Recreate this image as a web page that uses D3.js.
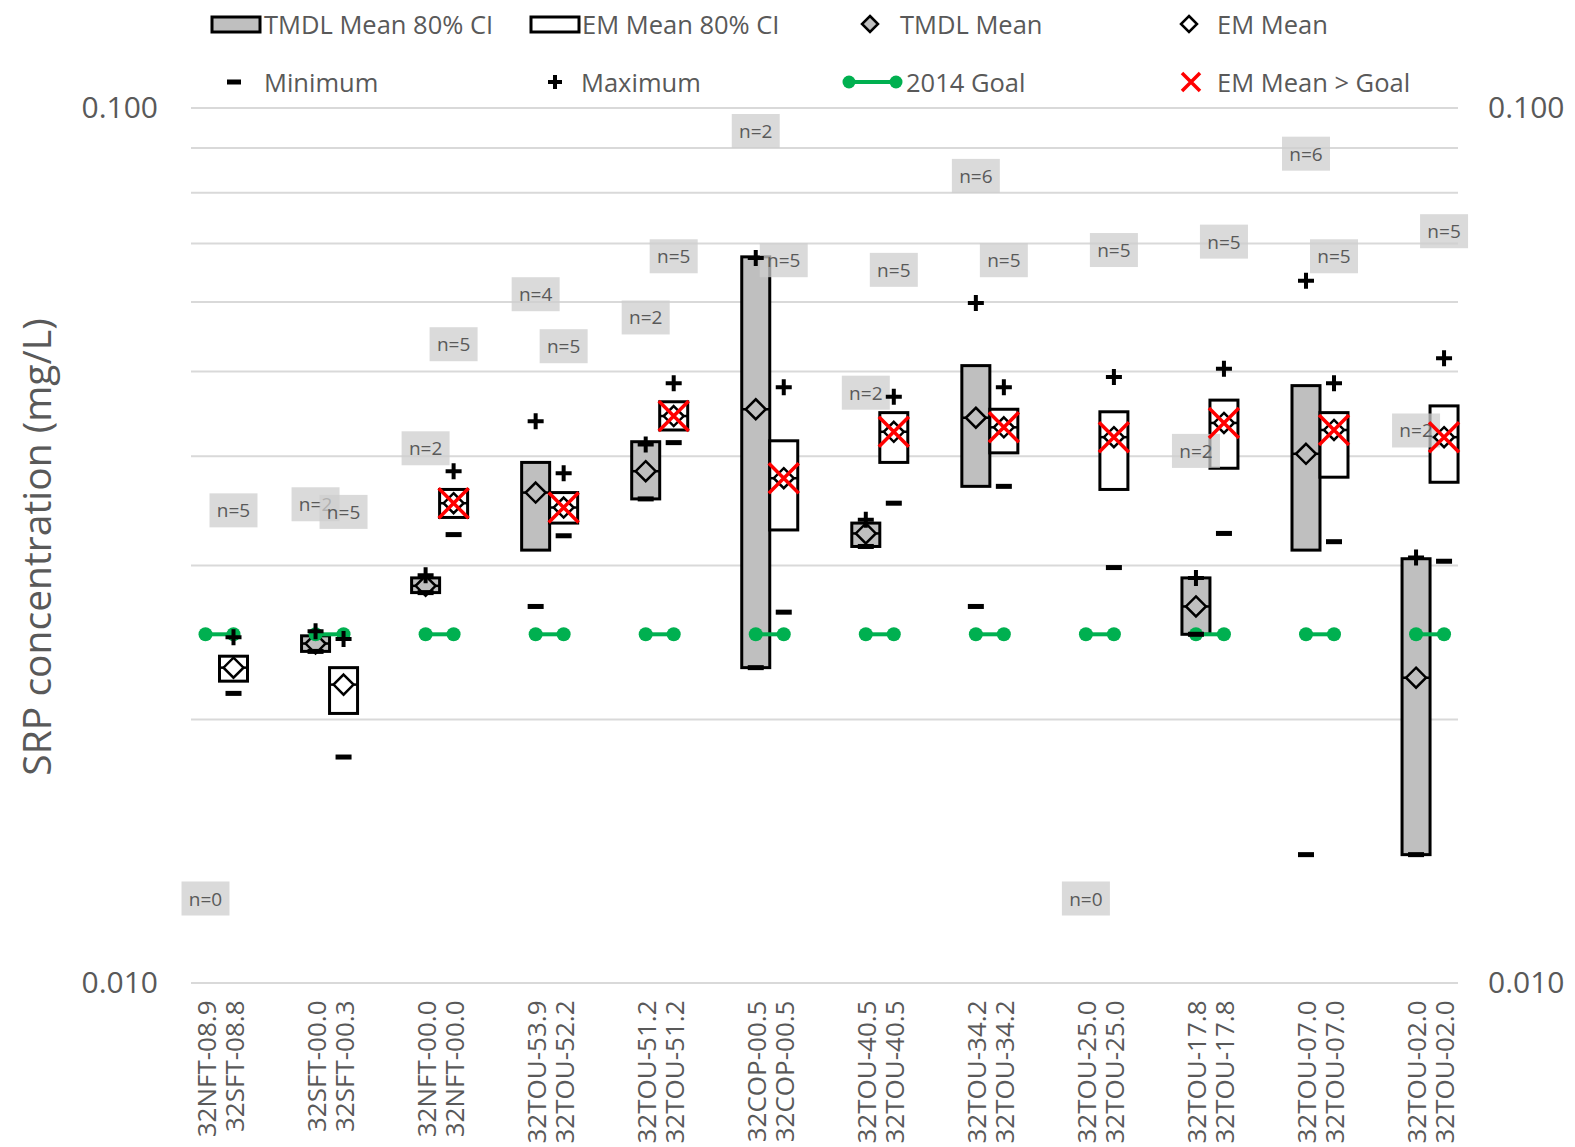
<!DOCTYPE html>
<html>
<head>
<meta charset="utf-8">
<script src="https://cdn.jsdelivr.net/npm/d3@7"></script>
<style>
  body { margin: 0; background: #fff; }
  text { font-family: "Open Sans", sans-serif; }
</style>
</head>
<body>
<div id="chart"></div>
<script>
// station pairs (TMDL site / EM site)
const tmdlStations = ["32NFT-08.9", "32SFT-00.0", "32NFT-00.0", "32TOU-53.9", "32TOU-51.2", "32COP-00.5",
  "32TOU-40.5", "32TOU-34.2", "32TOU-25.0", "32TOU-17.8", "32TOU-07.0", "32TOU-02.0"];
const emStations = ["32SFT-08.8", "32SFT-00.3", "32NFT-00.0", "32TOU-52.2", "32TOU-51.2", "32COP-00.5",
  "32TOU-40.5", "32TOU-34.2", "32TOU-25.0", "32TOU-17.8", "32TOU-07.0", "32TOU-02.0"];

const tmdlN = [0, 2, 2, 4, 2, 2, 2, 6, 0, 2, 6, 2];
const emN = [5, 5, 5, 5, 5, 5, 5, 5, 5, 5, 5, 5];

// SRP, mg/L
const tmdlMean = [null, 0.0244, 0.0284, 0.0363, 0.0384, 0.0452, 0.0326, 0.0442, null, 0.0269, 0.0402, 0.0223];
const tmdlLo   = [null, 0.0239, 0.0279, 0.0312, 0.0357, 0.0229, 0.0315, 0.0369, null, 0.0250, 0.0312, 0.0140];
const tmdlHi   = [null, 0.0249, 0.0290, 0.0393, 0.0415, 0.0675, 0.0335, 0.0507, null, 0.0290, 0.0481, 0.0305];
const tmdlMin  = [null, 0.0239, 0.0279, 0.0269, 0.0357, 0.0229, 0.0315, 0.0269, null, 0.0250, 0.0140, 0.0140];
const tmdlMax  = [null, 0.0252, 0.0292, 0.0438, 0.0412, 0.0673, 0.0338, 0.0598, null, 0.0290, 0.0634, 0.0306];

const emMean = [0.0229, 0.0219, 0.0353, 0.0349, 0.0444, 0.0377, 0.0426, 0.0431, 0.0420, 0.0436, 0.0428, 0.0420];
const emLo   = [0.0221, 0.0203, 0.0340, 0.0335, 0.0428, 0.0329, 0.0393, 0.0403, 0.0366, 0.0387, 0.0378, 0.0373];
const emHi   = [0.0236, 0.0229, 0.0366, 0.0363, 0.0461, 0.0416, 0.0448, 0.0452, 0.0449, 0.0463, 0.0448, 0.0456];
const emMin  = [0.0214, 0.0181, 0.0325, 0.0324, 0.0414, 0.0265, 0.0353, 0.0369, 0.0298, 0.0326, 0.0319, 0.0303];
const emMax  = [0.0248, 0.0247, 0.0384, 0.0382, 0.0484, 0.0479, 0.0467, 0.0479, 0.0492, 0.0503, 0.0484, 0.0517];

const goal2014 = 0.025;
const yTickValues = [0.01, 0.1];
const gridValues = [0.01, 0.02, 0.03, 0.04, 0.05, 0.06, 0.07, 0.08, 0.09, 0.1];

const width = 1575, height = 1147;
const plot = { left: 191, right: 1458, top: 107.5, bottom: 982.5 };
const textGray = "#595959";
const gray = "#bfbfbf";
const green = "#00b050";
const boxW = 28, pairOff = 14;

const x = d3.scaleLinear()
  .domain([-0.259, 11.254])
  .range([plot.left, plot.right]);

const y = d3.scaleLog()
  .domain([0.01, 0.1])
  .range([plot.bottom, plot.top]);

const svg = d3.select("#chart").append("svg")
  .attr("width", width)
  .attr("height", height);

// gridlines
svg.append("g")
  .attr("transform", `translate(${plot.left},0)`)
  .call(d3.axisLeft(y).tickValues(gridValues).tickSize(-(plot.right - plot.left)).tickFormat(""))
  .call(g => g.select(".domain").remove())
  .call(g => g.selectAll("line").attr("stroke", "#d9d9d9").attr("stroke-width", 2));

// y tick labels both sides
svg.append("g")
  .attr("transform", `translate(${plot.left - 30},0)`)
  .call(d3.axisLeft(y).tickValues(yTickValues).tickSize(0).tickFormat(d3.format(".3f")))
  .call(g => g.select(".domain").remove())
  .call(g => g.selectAll("text").attr("fill", textGray).style("font-size", "30px"));

svg.append("g")
  .attr("transform", `translate(${plot.right + 27},0)`)
  .call(d3.axisRight(y).tickValues(yTickValues).tickSize(0).tickFormat(d3.format(".3f")))
  .call(g => g.select(".domain").remove())
  .call(g => g.selectAll("text").attr("fill", textGray).style("font-size", "30px"));

// y axis title
svg.append("text")
  .attr("transform", `translate(35,${(plot.top + plot.bottom) / 2 + 2}) rotate(-90)`)
  .attr("text-anchor", "middle")
  .attr("dominant-baseline", "central")
  .attr("fill", textGray)
  .style("font-size", "39px")
  .text("SRP concentration (mg/L)");

// station labels, one line per series
const stationLabels = [];
tmdlStations.forEach((s, i) => {
  stationLabels.push({ name: s, cx: x(i) - pairOff });
  stationLabels.push({ name: emStations[i], cx: x(i) + pairOff });
});
svg.append("g").selectAll("text")
  .data(stationLabels)
  .enter()
  .append("text")
  .attr("transform", d => `translate(${d.cx},${plot.bottom + 18}) rotate(-90)`)
  .attr("text-anchor", "end")
  .attr("dominant-baseline", "central")
  .attr("fill", textGray)
  .style("font-size", "26px")
  .text(d => d.name);

// records for every series
const series = [];
tmdlStations.forEach((s, i) => {
  series.push({ kind: "tmdl", n: tmdlN[i], mean: tmdlMean[i], lo: tmdlLo[i], hi: tmdlHi[i],
    min: tmdlMin[i], max: tmdlMax[i], cx: x(i) - pairOff });
  series.push({ kind: "em", n: emN[i], mean: emMean[i], lo: emLo[i], hi: emHi[i],
    min: emMin[i], max: emMax[i], cx: x(i) + pairOff });
});
const withData = series.filter(d => d.mean != null);

// CI boxes
svg.append("g").selectAll("rect")
  .data(withData)
  .enter()
  .append("rect")
  .attr("x", d => d.cx - boxW / 2)
  .attr("y", d => y(d.hi))
  .attr("width", boxW)
  .attr("height", d => y(d.lo) - y(d.hi))
  .attr("fill", d => d.kind === "tmdl" ? gray : "#fff")
  .attr("stroke", "#000")
  .attr("stroke-width", 3);

// line across the box at the mean
svg.append("g").selectAll("line")
  .data(withData)
  .enter()
  .append("line")
  .attr("x1", d => d.cx - boxW / 2)
  .attr("x2", d => d.cx + boxW / 2)
  .attr("y1", d => y(d.mean))
  .attr("y2", d => y(d.mean))
  .attr("stroke", "#000")
  .attr("stroke-width", 2.5);

// n labels
const nLabels = svg.append("g").selectAll("g")
  .data(series)
  .enter()
  .append("g")
  .attr("transform", d => `translate(${d.cx},${d.max != null ? y(d.max) - 127 : plot.bottom - 84})`);
nLabels.append("rect")
  .attr("x", -24).attr("y", -17)
  .attr("width", 48).attr("height", 34)
  .attr("fill", "#cdcdcd")
  .attr("opacity", 0.75);
nLabels.append("text")
  .attr("text-anchor", "middle")
  .attr("dominant-baseline", "central")
  .attr("fill", textGray)
  .style("font-size", "19px")
  .text(d => `n=${d.n}`);

// mean diamonds
const diamond = "M0,-10L10,0L0,10L-10,0Z";
svg.append("g").selectAll("path")
  .data(withData)
  .enter()
  .append("path")
  .attr("transform", d => `translate(${d.cx},${y(d.mean)})`)
  .attr("d", diamond)
  .attr("fill", d => d.kind === "tmdl" ? gray : "#fff")
  .attr("stroke", "#000")
  .attr("stroke-width", 2.5);

// 2014 goal
const goalG = svg.append("g").selectAll("g")
  .data(tmdlStations)
  .enter()
  .append("g");
goalG.append("line")
  .attr("x1", (d, i) => x(i) - pairOff)
  .attr("x2", (d, i) => x(i) + pairOff)
  .attr("y1", y(goal2014))
  .attr("y2", y(goal2014))
  .attr("stroke", green)
  .attr("stroke-width", 4);
goalG.selectAll("circle")
  .data((d, i) => [x(i) - pairOff, x(i) + pairOff])
  .enter()
  .append("circle")
  .attr("cx", d => d)
  .attr("cy", y(goal2014))
  .attr("r", 7)
  .attr("fill", green);

// min and max
svg.append("g").selectAll("rect")
  .data(withData)
  .enter()
  .append("rect")
  .attr("x", d => d.cx - 8)
  .attr("y", d => y(d.min) - 2.5)
  .attr("width", 16)
  .attr("height", 5)
  .attr("fill", "#000");

const plus = "M-8,0H8M0,-8V8";
svg.append("g").selectAll("path")
  .data(withData)
  .enter()
  .append("path")
  .attr("transform", d => `translate(${d.cx},${y(d.max)})`)
  .attr("d", plus)
  .attr("stroke", "#000")
  .attr("stroke-width", 4);

// EM mean above goal
const cross = "M-15,-15L15,15M15,-15L-15,15";
svg.append("g").selectAll("path")
  .data(withData.filter(d => d.kind === "em" && d.mean > goal2014))
  .enter()
  .append("path")
  .attr("transform", d => `translate(${d.cx},${y(d.mean)})`)
  .attr("d", cross)
  .attr("stroke", "#ff0000")
  .attr("stroke-width", 3.5);

// Legend
const legend = svg.append("g");
const row1 = 24, row2 = 82;
function legendText(xp, yp, label) {
  legend.append("text")
    .attr("x", xp).attr("y", yp)
    .attr("dominant-baseline", "central")
    .attr("fill", textGray)
    .style("font-size", "25.5px")
    .text(label);
}
legend.append("rect").attr("x", 212).attr("y", 17).attr("width", 48).attr("height", 15)
  .attr("fill", gray).attr("stroke", "#000").attr("stroke-width", 3);
legendText(264, row1, "TMDL Mean 80% CI");
legend.append("rect").attr("x", 531).attr("y", 17).attr("width", 48).attr("height", 15)
  .attr("fill", "#fff").attr("stroke", "#000").attr("stroke-width", 3);
legendText(582, row1, "EM Mean 80% CI");
legend.append("path").attr("transform", `translate(870,${row1})`).attr("d", "M0,-8L8,0L0,8L-8,0Z")
  .attr("fill", gray).attr("stroke", "#000").attr("stroke-width", 2.5);
legendText(900, row1, "TMDL Mean");
legend.append("path").attr("transform", `translate(1189,${row1})`).attr("d", "M0,-8L8,0L0,8L-8,0Z")
  .attr("fill", "#fff").attr("stroke", "#000").attr("stroke-width", 2.5);
legendText(1217, row1, "EM Mean");

legend.append("rect").attr("x", 227).attr("y", row2 - 2.5).attr("width", 14).attr("height", 5).attr("fill", "#000");
legendText(264, row2, "Minimum");
legend.append("path").attr("transform", `translate(555,${row2})`).attr("d", "M-7,0H7M0,-7V7")
  .attr("stroke", "#000").attr("stroke-width", 4);
legendText(581, row2, "Maximum");
legend.append("line").attr("x1", 849).attr("x2", 896).attr("y1", row2).attr("y2", row2)
  .attr("stroke", green).attr("stroke-width", 4);
legend.selectAll(".gdot").data([849, 896]).enter().append("circle")
  .attr("cx", d => d).attr("cy", row2).attr("r", 6.5).attr("fill", green);
legendText(906, row2, "2014 Goal");
legend.append("path").attr("transform", `translate(1191,${row2})`).attr("d", "M-9,-9L9,9M9,-9L-9,9")
  .attr("stroke", "#ff0000").attr("stroke-width", 3.5);
legendText(1217, row2, "EM Mean > Goal");
</script>
</body>
</html>
